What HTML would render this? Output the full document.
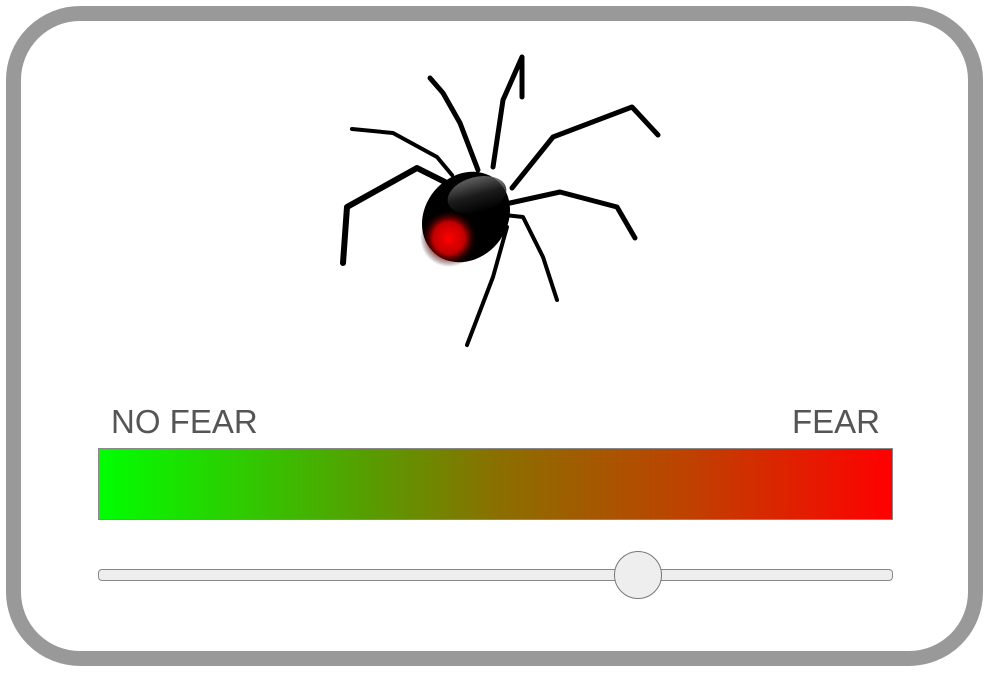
<!DOCTYPE html>
<html><head><meta charset="utf-8"><style>
html,body{margin:0;padding:0;background:#fff;}
body{width:991px;height:674px;position:relative;overflow:hidden;font-family:"Liberation Sans",sans-serif;}
#frame{position:absolute;left:6px;top:6px;width:947px;height:630px;border:15px solid #999;border-radius:74px;}
.lbl{position:absolute;top:403px;font-size:33px;color:#555;}
#bar{position:absolute;left:98px;top:448px;width:793px;height:70px;border:1px solid #888;background:linear-gradient(to right,#00ff00,#5a9a00 35%,#8a7000 50%,#c04000 75%,#ff0000);}
#track{position:absolute;left:98px;top:569px;width:793px;height:10px;border:1px solid #888;border-radius:4px;background:#eee;}
#thumb{position:absolute;left:614px;top:551px;width:46px;height:46px;border:1px solid #777;border-radius:50%;background:#eee;}
</style></head><body>
<div id="frame"></div>
<svg style="position:absolute;left:0;top:0" width="991" height="674">
<defs>
<radialGradient id="red" cx="0.5" cy="0.5" r="0.5"><stop offset="0" stop-color="#ff0000"/><stop offset="0.55" stop-color="#c00000"/><stop offset="1" stop-color="#000" stop-opacity="0"/></radialGradient>
<linearGradient id="sh" x1="0" y1="0" x2="0" y2="1"><stop offset="0" stop-color="#777"/><stop offset="0.5" stop-color="#222"/><stop offset="1" stop-color="#000"/></linearGradient>
</defs>
<g fill="none" stroke="#000" stroke-linejoin="round" stroke-linecap="round">
<polyline stroke-width="5" points="430,78 443,93 460,123 478,170"/>
<polyline stroke-width="5" points="522,97 522,57 503,100 493,167"/>
<polyline stroke-width="4" points="352,129 393,133 437,157 452,175"/>
<polyline stroke-width="6" points="343,263 347,207 417,168 445,182"/>
<polyline stroke-width="5" points="658,135 632,107 553,137 512,188"/>
<polyline stroke-width="5" points="635,238 617,207 560,192 510,203"/>
<polyline stroke-width="4" points="557,300 543,257 523,217 505,215"/>
<polyline stroke-width="4" points="467,345 493,277 507,227"/>
</g>
<ellipse cx="466" cy="217" rx="41" ry="48" transform="rotate(40 466 217)" fill="#000"/>
<ellipse cx="477" cy="195" rx="30" ry="18" transform="rotate(-15 477 195)" fill="url(#sh)" opacity="0.8"/>
<circle cx="449" cy="238" r="29" fill="url(#red)"/>
</svg>
<div class="lbl" style="left:111px">NO FEAR</div>
<div class="lbl" style="right:111px">FEAR</div>
<div id="bar"></div>
<div id="track"></div>
<div id="thumb"></div>
</body></html>
